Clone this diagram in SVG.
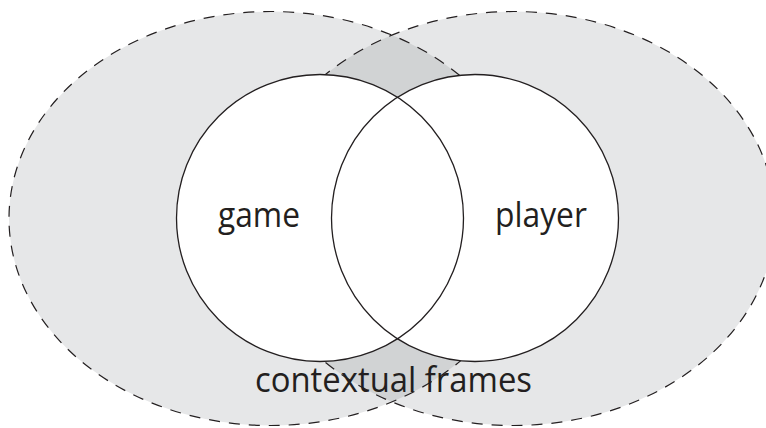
<svg xmlns="http://www.w3.org/2000/svg" width="766" height="428" viewBox="0 0 766 428">
<style>
.frame-fill{fill:#e6e7e8;stroke:none}
.overlap{fill:#d1d3d4;stroke:none}
.frame-line{fill:none;stroke:#231f20;stroke-width:1.2;stroke-dasharray:11 9}
.circle-fill{fill:#ffffff;stroke:none}
.circle{fill:none;stroke:#231f20;stroke-width:1.3}
.label{font-family:"Open Sans","Noto Sans","Liberation Sans",sans-serif;font-size:34px;fill:#231f20}
</style>
<defs>
<clipPath id="clipLeft"><ellipse cx="270.6" cy="218.5" rx="261.6" ry="207"/></clipPath>
</defs>
<rect width="766" height="428" fill="#ffffff"/>
<g id="contextual-frames">
  <ellipse class="frame-fill" cx="270.6" cy="218.5" rx="261.6" ry="207"/>
  <ellipse class="frame-fill" cx="513.4" cy="218.5" rx="261.6" ry="207"/>
  <ellipse class="overlap" cx="513.4" cy="218.5" rx="261.6" ry="207" clip-path="url(#clipLeft)"/>
  <text class="label" x="255" y="392" textLength="277" lengthAdjust="spacingAndGlyphs">contextual frames</text>
</g>
<g id="connectors">
  <ellipse class="frame-line" cx="270.6" cy="218.5" rx="261.6" ry="207"/>
  <ellipse class="frame-line" cx="513.4" cy="218.5" rx="261.6" ry="207"/>
</g>
<g id="circle-fills">
  <circle class="circle-fill" cx="320" cy="218" r="143.5"/>
  <circle class="circle-fill" cx="475" cy="218" r="143.5"/>
</g>
<g id="game">
  <circle class="circle" cx="320" cy="218" r="143.5"/>
  <text class="label" x="218" y="227" textLength="82" lengthAdjust="spacingAndGlyphs">game</text>
</g>
<g id="player">
  <circle class="circle" cx="475" cy="218" r="143.5"/>
  <text class="label" x="495" y="227" textLength="92" lengthAdjust="spacingAndGlyphs">player</text>
</g>
</svg>
